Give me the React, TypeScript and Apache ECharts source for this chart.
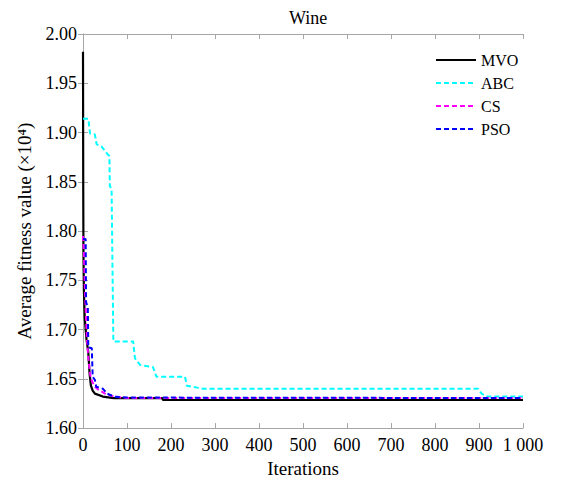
import React, { useEffect, useRef } from "react";
import * as echarts from "echarts";

const xTicks = [0, 100, 200, 300, 400, 500, 600, 700, 800, 900, 1000];
const yTicks = [1.6, 1.65, 1.7, 1.75, 1.8, 1.85, 1.9, 1.95, 2.0];

const mvoIter = [0, 0.5, 1, 2, 4, 8, 12, 15, 18, 22, 27, 45, 70, 180, 182, 1000];
const mvoVal = [1.982, 1.85, 1.78, 1.74, 1.711, 1.69, 1.677, 1.655, 1.643, 1.638, 1.635, 1.632, 1.6305, 1.6305, 1.6285, 1.6285];

const abcIter = [0, 12, 16, 27, 31, 42, 54, 60, 61, 65, 69, 114, 118, 130, 159, 167, 232, 236, 273, 898, 906, 918, 1000];
const abcVal = [1.914, 1.914, 1.899, 1.898, 1.888, 1.886, 1.879, 1.876, 1.846, 1.842, 1.688, 1.688, 1.671, 1.664, 1.662, 1.652, 1.652, 1.643, 1.64, 1.64, 1.635, 1.632, 1.632];

const csIter = [0, 2, 4, 7, 9, 12, 16, 20, 27, 35, 50, 70, 100, 1000];
const csVal = [1.795, 1.779, 1.745, 1.711, 1.69, 1.672, 1.655, 1.648, 1.642, 1.639, 1.635, 1.632, 1.6305, 1.6305];

const psoIter = [0, 6, 7, 11, 12, 20, 22, 27, 30, 45, 55, 70, 100, 1000];
const psoVal = [1.792, 1.792, 1.728, 1.722, 1.682, 1.681, 1.652, 1.649, 1.642, 1.64, 1.635, 1.632, 1.631, 1.6305];

const FONT = "'Liberation Serif', 'Times New Roman', serif";
const AXIS_COLOR = "#a6a6a6";

const zip = (xs: number[], ys: number[]) => xs.map((x, i) => [x, ys[i]]);

export default function App() {
  const ref = useRef<HTMLDivElement>(null);
  useEffect(() => {
    if (!ref.current) return;
    const chart = echarts.init(ref.current, undefined, { renderer: "svg" });
    const axisCommon = {
      axisLine: { show: true, lineStyle: { color: AXIS_COLOR, width: 1 } },
      axisTick: { show: true, inside: true, length: 5, lineStyle: { color: AXIS_COLOR } },
      splitLine: { show: false },
    };
    chart.setOption({
      animation: false,
      backgroundColor: "#fff",
      textStyle: { fontFamily: FONT },
      title: {
        text: "Wine",
        left: 303,
        textAlign: "center",
        top: 4,
        textStyle: { fontFamily: FONT, fontSize: 18, fontWeight: "normal", color: "#000" },
      },
      grid: { left: 83, right: 44, top: 34, bottom: 53 },
      legend: {
        orient: "vertical",
        left: 430,
        top: 47,
        itemWidth: 40,
        itemHeight: 14,
        itemGap: 7,
        itemStyle: { opacity: 0 },
        textStyle: { fontFamily: FONT, fontSize: 16, color: "#000" },
        data: ["MVO", "ABC", "CS", "PSO"],
      },
      xAxis: [
        {
          type: "value",
          min: 0,
          max: 1000,
          interval: 100,
          position: "bottom",
          name: "Iterations",
          nameLocation: "middle",
          nameGap: 27,
          nameTextStyle: { fontFamily: FONT, fontSize: 19, color: "#000" },
          axisLabel: {
            fontFamily: FONT,
            fontSize: 18,
            color: "#000",
            margin: 8,
            formatter: (v: number) => (v === 1000 ? "1 000" : String(v)),
          },
          ...axisCommon,
        },
        {
          type: "value",
          min: 0,
          max: 1000,
          interval: 100,
          position: "top",
          axisLabel: { show: false },
          ...axisCommon,
        },
      ],
      yAxis: [
        {
          type: "value",
          min: 1.6,
          max: 2.0,
          interval: 0.05,
          position: "left",
          name: "Average fitness value (×10⁴)",
          nameLocation: "middle",
          nameGap: 49,
          nameTextStyle: { fontFamily: FONT, fontSize: 19, color: "#000" },
          axisLabel: {
            fontFamily: FONT,
            fontSize: 18,
            color: "#000",
            margin: 6,
            formatter: (v: number) => v.toFixed(2),
          },
          ...axisCommon,
        },
        {
          type: "value",
          min: 1.6,
          max: 2.0,
          interval: 0.05,
          position: "right",
          axisLabel: { show: false },
          ...axisCommon,
        },
      ],
      series: [
        {
          name: "MVO",
          type: "line",
          symbol: "none",
          data: zip(mvoIter, mvoVal),
          lineStyle: { color: "#000", width: 2.2, type: "solid" },
          itemStyle: { color: "#000" },
        },
        {
          name: "ABC",
          type: "line",
          symbol: "none",
          data: zip(abcIter, abcVal),
          lineStyle: { color: "#00ffff", width: 2, type: [5, 3] },
          itemStyle: { color: "#00ffff" },
        },
        {
          name: "CS",
          type: "line",
          symbol: "none",
          data: zip(csIter, csVal),
          lineStyle: { color: "#ff00ff", width: 2, type: [5, 3] },
          itemStyle: { color: "#ff00ff" },
        },
        {
          name: "PSO",
          type: "line",
          symbol: "none",
          data: zip(psoIter, psoVal),
          lineStyle: { color: "#0000ff", width: 2, type: [5, 3] },
          itemStyle: { color: "#0000ff" },
        },
      ],
    });
    return () => chart.dispose();
  }, []);
  return <div ref={ref} style={{ width: 567, height: 483, position: "absolute", left: 0, top: 0 }} />;
}
